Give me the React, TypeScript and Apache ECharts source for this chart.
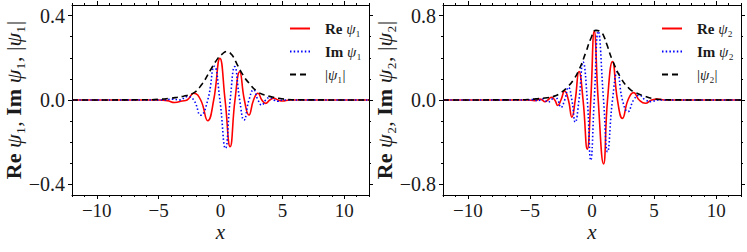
import React, { useEffect, useRef } from 'react';
import * as echarts from 'echarts';

// ---------- data ----------
const xMajor = [-10, -5, 0, 5, 10];
const xMinor = [-12, -11, -10, -9, -8, -7, -6, -5, -4, -3, -2, -1, 0, 1, 2, 3, 4, 5, 6, 7, 8, 9, 10, 11, 12];
const y1Major = [-0.4, 0, 0.4];
const y1Minor = [-0.4, -0.3, -0.2, -0.1, 0, 0.1, 0.2, 0.3, 0.4];
const y2Major = [-0.8, 0, 0.8];
const y2Minor = [-0.8, -0.6, -0.4, -0.2, 0, 0.2, 0.4, 0.6, 0.8];

const re1 = [[-12, 0], [-5, 0], [-4.3, -0.003], [-3.7, -0.012], [-3.1, -0.005], [-2.7, 0], [-2.16, 0.032], [-1.6, 0], [-1.03, -0.098], [-0.55, 0], [-0.05, 0.197], [0.37, 0], [0.78, -0.221], [1.17, 0], [1.55, 0.134], [1.93, 0], [2.3, -0.071], [2.67, 0], [3.03, 0.032], [3.34, 0], [3.65, -0.016], [3.98, 0], [4.32, 0.008], [4.65, 0], [5.0, -0.005], [5.6, 0], [12, 0]];
const im1 = [[-12, 0], [-4.6, 0], [-3.9, 0.004], [-3.3, 0], [-2.7, 0.016], [-2.16, 0], [-1.6, -0.072], [-1.03, 0], [-0.5, 0.16], [-0.05, 0], [0.4, -0.229], [0.78, 0], [1.15, 0.158], [1.55, 0], [1.9, -0.095], [2.3, 0], [2.67, 0.048], [3.03, 0], [3.34, -0.024], [3.65, 0], [3.98, 0.012], [4.32, 0], [4.65, -0.006], [5.0, 0], [12, 0]];
const abs1 = [[-12, 0], [-6.2, 0.001], [-5, 0.003], [-4, 0.009], [-3, 0.018], [-2.16, 0.034], [-1.5, 0.075], [-0.81, 0.142], [-0.3, 0.19], [0.13, 0.217], [0.5, 0.23], [0.9, 0.215], [1.35, 0.168], [1.8, 0.12], [2.3, 0.08], [2.97, 0.04], [3.5, 0.025], [4.05, 0.016], [4.7, 0.008], [5.4, 0.003], [6.2, 0.001], [12, 0]];

const re2 = [[-12, 0], [-5.2, 0], [-4.6, -0.006], [-4.4, 0], [-4.2, 0.01], [-4.0, 0], [-3.8, -0.016], [-3.55, 0], [-3.28, 0.026], [-3.0, 0], [-2.75, -0.052], [-2.5, 0], [-2.2, 0.085], [-1.9, 0], [-1.62, -0.162], [-1.35, 0], [-1.05, 0.27], [-0.72, 0], [-0.38, -0.465], [-0.1, 0], [0.18, 0.65], [0.5, 0], [0.93, -0.605], [1.25, 0], [1.65, 0.365], [2.05, 0], [2.45, -0.174], [2.9, 0], [3.35, 0.07], [3.8, 0], [4.3, -0.031], [4.8, 0], [5.3, 0.008], [5.8, 0], [12, 0]];
const im2 = [[-12, 0], [-5.2, 0], [-4.8, 0.004], [-4.6, 0], [-4.4, -0.008], [-4.2, 0], [-4.0, 0.012], [-3.8, 0], [-3.55, -0.02], [-3.28, 0], [-3.0, 0.035], [-2.75, 0], [-2.5, -0.07], [-2.2, 0], [-1.9, 0.12], [-1.62, 0], [-1.35, -0.21], [-1.05, 0], [-0.72, 0.36], [-0.38, 0], [-0.1, -0.57], [0.18, 0], [0.5, 0.65], [0.93, 0], [1.25, -0.49], [1.65, 0], [2.05, 0.27], [2.45, 0], [2.9, -0.11], [3.35, 0], [3.8, 0.045], [4.3, 0], [4.8, -0.015], [5.3, 0], [12, 0]];
const abs2 = [[-12, 0], [-6, 0.002], [-5, 0.006], [-4.3, 0.013], [-3.6, 0.022], [-3.0, 0.037], [-2.5, 0.07], [-2.0, 0.12], [-1.5, 0.19], [-1.05, 0.285], [-0.5, 0.45], [-0.1, 0.58], [0.32, 0.66], [0.7, 0.645], [0.93, 0.61], [1.2, 0.525], [1.65, 0.375], [2.32, 0.21], [2.98, 0.11], [3.5, 0.07], [4.3, 0.033], [5.0, 0.012], [5.8, 0.003], [6.5, 0.001], [12, 0]];

const names1 = ['Re ψ₁', 'Im ψ₁', '|ψ₁|'];
const names2 = ['Re ψ₂', 'Im ψ₂', '|ψ₂|'];

// ---------- styling ----------
const SERIF = '"Liberation Serif", "DejaVu Serif", serif';
const INK = '#1a1a1a';
const minus = (s: string) => s.replace('-', '−');
const fmtX = (v: number) => minus(String(Math.round(v)));
const fmtY = (v: number) => minus(Math.abs(v) < 1e-9 ? '0.0' : v.toFixed(1));

function xAxesFor(grid: number) {
  const base = {
    gridIndex: grid, type: 'value' as const, min: -12, max: 12,
    splitLine: { show: false },
  };
  return [
    {
      ...base, position: 'bottom',
      axisLine: { show: true, onZero: false, lineStyle: { color: '#000', width: 1 } },
      axisTick: { show: true, customValues: xMajor, length: 4, lineStyle: { color: '#000' } },
      axisLabel: { show: true, customValues: xMajor, formatter: fmtX, margin: 6, color: INK, fontFamily: SERIF, fontSize: 19 },
      name: 'x', nameLocation: 'middle', nameGap: 26, nameMoveOverlap: false,
      nameTextStyle: { fontFamily: SERIF, fontStyle: 'italic', fontSize: 21, color: INK },
    },
    {
      ...base, position: 'bottom',
      axisLine: { show: false, onZero: false },
      axisTick: { show: true, customValues: xMinor, length: 2, lineStyle: { color: '#000' } },
      axisLabel: { show: false },
    },
    {
      ...base, position: 'top',
      axisLine: { show: true, onZero: false, lineStyle: { color: '#000', width: 1 } },
      axisTick: { show: true, customValues: xMajor, length: 4, lineStyle: { color: '#000' } },
      axisLabel: { show: false },
    },
    {
      ...base, position: 'top',
      axisLine: { show: false, onZero: false },
      axisTick: { show: true, customValues: xMinor, length: 2, lineStyle: { color: '#000' } },
      axisLabel: { show: false },
    },
  ];
}

function yAxesFor(grid: number, lim: number, major: number[], minor: number[], sub: string) {
  const base = {
    gridIndex: grid, type: 'value' as const, min: -lim, max: lim,
    splitLine: { show: false },
  };
  return [
    {
      ...base, position: 'left',
      axisLine: { show: true, onZero: false, lineStyle: { color: '#000', width: 1 } },
      axisTick: { show: true, customValues: major, length: 4, lineStyle: { color: '#000' } },
      axisLabel: { show: true, customValues: major, formatter: fmtY, margin: 7, color: INK, fontFamily: SERIF, fontSize: 20 },
      name: `{b|Re} {i|ψ}${sub}, {b|Im} {i|ψ}${sub}, |{i|ψ}${sub}|`,
      nameLocation: 'middle', nameGap: 48, nameMoveOverlap: false,
      nameTextStyle: {
        fontFamily: SERIF, fontSize: 22, color: INK,
        rich: {
          b: { fontFamily: SERIF, fontSize: 22, fontWeight: 'bold', color: INK },
          i: { fontFamily: SERIF, fontSize: 22, fontStyle: 'italic', color: INK },
        },
      },
    },
    {
      ...base, position: 'left',
      axisLine: { show: false, onZero: false },
      axisTick: { show: true, customValues: minor, length: 2, lineStyle: { color: '#000' } },
      axisLabel: { show: false },
    },
    {
      ...base, position: 'right',
      axisLine: { show: true, onZero: false, lineStyle: { color: '#000', width: 1 } },
      axisTick: { show: true, customValues: major, length: 4, lineStyle: { color: '#000' } },
      axisLabel: { show: false },
    },
    {
      ...base, position: 'right',
      axisLine: { show: false, onZero: false },
      axisTick: { show: true, customValues: minor, length: 2, lineStyle: { color: '#000' } },
      axisLabel: { show: false },
    },
  ];
}

function seriesFor(axis: number, names: string[], re: number[][], im: number[][], ab: number[][]) {
  const common = { type: 'line' as const, xAxisIndex: axis, yAxisIndex: axis, symbol: 'none', showSymbol: false, smooth: true };
  return [
    { ...common, name: names[0], data: re, itemStyle: { color: '#ff0000' }, lineStyle: { color: '#ff0000', width: 1.6, type: 'solid' }, z: 2 },
    { ...common, name: names[1], data: im, itemStyle: { color: '#0000ff' }, lineStyle: { color: '#0000ff', width: 1.6, type: [1.5, 2.2] }, z: 3 },
    { ...common, name: names[2], data: ab, itemStyle: { color: '#000' }, lineStyle: { color: '#000', width: 1.6, type: [6, 4] }, z: 4 },
  ];
}

const legendFmt = (name: string) => {
  if (name.startsWith('Re ')) return `{b|Re} {i|ψ}${name.slice(4)}`;
  if (name.startsWith('Im ')) return `{b|Im} {i|ψ}${name.slice(4)}`;
  return `|{i|ψ}${name.slice(2, 3)}|`;
};

function legendFor(left: number, names: string[]) {
  return {
    show: true, orient: 'vertical', left, top: 16, itemWidth: 20, itemHeight: 10, itemGap: 8,
    data: names, formatter: legendFmt, selectedMode: false,
    itemStyle: { color: 'rgba(0,0,0,0)', borderWidth: 0, opacity: 0 },
    textStyle: {
      fontFamily: SERIF, fontSize: 15, color: INK, padding: [0, 0, 0, 10],
      rich: {
        b: { fontFamily: SERIF, fontSize: 15, fontWeight: 'bold', color: INK },
        i: { fontFamily: SERIF, fontSize: 15, fontStyle: 'italic', color: INK },
      },
    },
  };
}

export default function App() {
  const ref = useRef<HTMLDivElement>(null);
  useEffect(() => {
    if (!ref.current) return;
    const chart = echarts.init(ref.current, null, { renderer: 'svg' });
    chart.setOption({
      animation: false,
      backgroundColor: '#fff',
      grid: [
        { left: 72, top: 5, width: 297, height: 190 },
        { left: 443, top: 5, width: 298, height: 190 },
      ],
      xAxis: [...xAxesFor(0), ...xAxesFor(1)],
      yAxis: [...yAxesFor(0, 0.45, y1Major, y1Minor, '₁'), ...yAxesFor(1, 0.9, y2Major, y2Minor, '₂')],
      legend: [legendFor(284, names1), legendFor(656, names2)],
      series: [...seriesFor(0, names1, re1, im1, abs1), ...seriesFor(4, names2, re2, im2, abs2)],
    });
    return () => chart.dispose();
  }, []);
  return <div ref={ref} style={{ position: 'fixed', left: 0, top: 0, width: 747, height: 252 }} />;
}
